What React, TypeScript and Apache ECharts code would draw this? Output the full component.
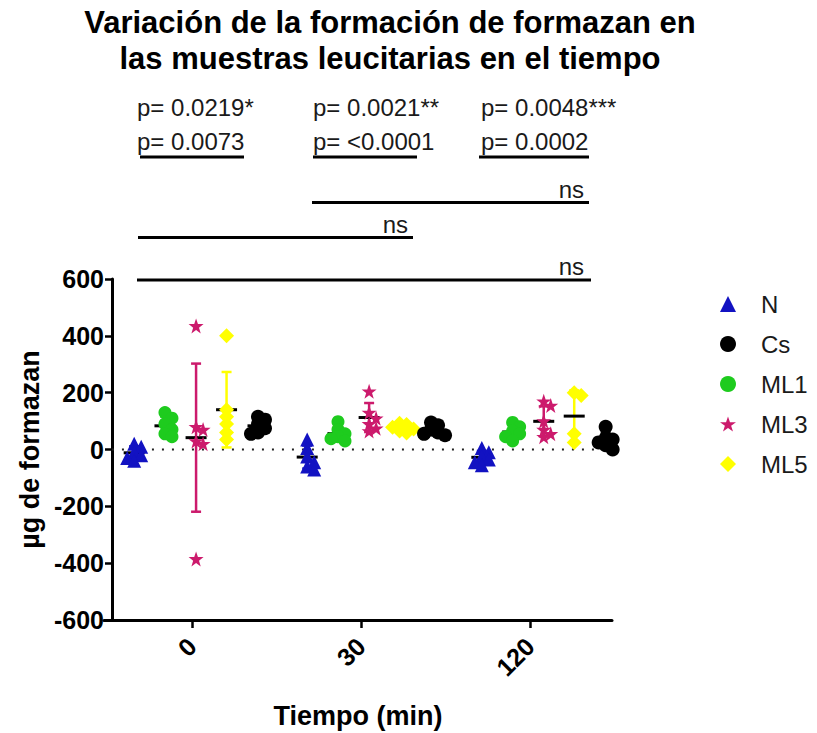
import { useEffect, useRef } from 'react';
import * as echarts from 'echarts';

// ---- data (µg de formazan per sample) ----
const TIMES = ['0', '30', '120'];
const GROUP_NAMES = ['N', 'ML1', 'ML3', 'ML5', 'Cs'];
const LEGEND_ORDER = ['N', 'Cs', 'ML1', 'ML3', 'ML5'];

const N_VALUES = [
  [20, 10, -10, -20, -30, -40],
  [35, 5, -25, -45, -60, -70],
  [5, -10, -25, -35, -45, -55],
];
const ML1_VALUES = [
  [130, 110, 90, 70, 55, 45],
  [98, 70, 55, 45, 38, 30],
  [95, 80, 65, 55, 45, 30],
];
const ML3_VALUES = [
  [435, 80, 70, 30, 20, -385],
  [205, 130, 110, 90, 75, 65],
  [170, 155, 100, 70, 55, 45],
];
const ML5_VALUES = [
  [400, 140, 115, 90, 60, 35],
  [92, 88, 78, 72, 65, 58],
  [200, 190, 55, 25],
];
const CS_VALUES = [
  [115, 105, 90, 75, 60, 55],
  [95, 85, 70, 60, 55, 50],
  [80, 40, 35, 25, 15, 0],
];

const Y_TICKS = [-600, -400, -200, 0, 200, 400, 600];

// comparison annotations above the plot
const P_TOP = ['p= 0.0219*', 'p= 0.0021**', 'p= 0.0048***'];
const P_BOTTOM = ['p= 0.0073', 'p= <0.0001', 'p= 0.0002'];
const NS_LABELS = ['ns', 'ns', 'ns'];

const TITLE_LINES = [
  'Variación de la formación de formazan en',
  'las muestras leucitarias en el tiempo',
];

// ---- layout ----
const W = 817;
const H = 733;
const GRID = { left: 104, right: 205, top: 279, bottom: 113 };
const X_MIN = -2.9;
const X_MAX = 13.1;
const GROUP_CENTER = [0, 5.45, 10.95];
const SUB_OFFSET = [-1.95, -0.98, 0, 0.96, 1.95];
const TICK_POS = [-0.13, 5.19, 10.52];
const ZERO_LINE_X = [-2.65, 13.57];
const FONT = "'Liberation Sans', Arial, Helvetica, sans-serif";

const STAR =
  'path://M50,2 L61.8,36.2 L97.6,36.2 L68.6,57.6 L79.6,92 L50,71 L20.4,92 L31.4,57.6 L2.4,36.2 L38.2,36.2 Z';

const STYLE: Record<string, { color: string; symbol: string; size: number }> = {
  N: { color: '#1212c2', symbol: 'triangle', size: 14 },
  ML1: { color: '#1ecb1e', symbol: 'circle', size: 13 },
  ML3: { color: '#cc1a6c', symbol: STAR, size: 15 },
  ML5: { color: '#ffff00', symbol: 'diamond', size: 15 },
  Cs: { color: '#000000', symbol: 'circle', size: 14 },
};

const VALUES: Record<string, number[][]> = {
  N: N_VALUES,
  ML1: ML1_VALUES,
  ML3: ML3_VALUES,
  ML5: ML5_VALUES,
  Cs: CS_VALUES,
};

const PX_X = (W - GRID.left - GRID.right) / (X_MAX - X_MIN);
const PX_Y = (H - GRID.top - GRID.bottom) / (Y_TICKS[Y_TICKS.length - 1] - Y_TICKS[0]);

// spread overlapping points sideways, like a column scatter
function swarm(values: number[], cx: number): number[][] {
  const D = 7;
  const STEP = 3.5;
  const placed: { dx: number; y: number }[] = [];
  const order = values.map((_, i) => i).sort((a, b) => values[b] - values[a]);
  const out: number[][] = new Array(values.length);
  for (const i of order) {
    const y = values[i] * PX_Y;
    let dx = 0;
    for (let k = 0; k < 30; k++) {
      const cand = k === 0 ? 0 : (k % 2 ? 1 : -1) * Math.ceil(k / 2) * STEP;
      if (placed.every((p) => Math.hypot(p.dx - cand, p.y - y) >= D)) {
        dx = cand;
        break;
      }
    }
    placed.push({ dx, y });
    out[i] = [cx + dx / PX_X, values[i]];
  }
  return out;
}

function meanSd(v: number[]): [number, number] {
  const m = v.reduce((a, b) => a + b, 0) / v.length;
  const s = Math.sqrt(v.reduce((a, b) => a + (b - m) * (b - m), 0) / (v.length - 1));
  return [m, s];
}

function buildOption() {
  const scatter = GROUP_NAMES.map((name, gi) => {
    const st = STYLE[name];
    const data: number[][] = [];
    TIMES.forEach((_, ti) => {
      data.push(...swarm(VALUES[name][ti], GROUP_CENTER[ti] + SUB_OFFSET[gi]));
    });
    return {
      name,
      type: 'scatter',
      data,
      symbol: st.symbol,
      symbolSize: st.size,
      itemStyle: { color: st.color, opacity: 1 },
      clip: false,
      z: 3,
      silent: true,
    };
  });

  const summaryData: number[][] = [];
  GROUP_NAMES.forEach((name, gi) => {
    TIMES.forEach((_, ti) => {
      const [m, s] = meanSd(VALUES[name][ti]);
      summaryData.push([GROUP_CENTER[ti] + SUB_OFFSET[gi], m, s, gi]);
    });
  });

  const summary = {
    name: 'mean ± SD',
    type: 'custom',
    data: summaryData,
    clip: false,
    z: 2,
    silent: true,
    renderItem: (_params: any, api: any) => {
      const x = api.value(0);
      const m = api.value(1);
      const s = api.value(2);
      const color = STYLE[GROUP_NAMES[api.value(3)]].color;
      const c = api.coord([x, m]);
      const t = api.coord([x, m + s]);
      const b = api.coord([x, m - s]);
      const cap = 5;
      const half = 10.5;
      return {
        type: 'group',
        children: [
          { type: 'line', shape: { x1: c[0], y1: t[1], x2: c[0], y2: b[1] }, style: { stroke: color, lineWidth: 2.5 } },
          { type: 'line', shape: { x1: c[0] - cap, y1: t[1], x2: c[0] + cap, y2: t[1] }, style: { stroke: color, lineWidth: 2.5 } },
          { type: 'line', shape: { x1: c[0] - cap, y1: b[1], x2: c[0] + cap, y2: b[1] }, style: { stroke: color, lineWidth: 2.5 } },
          { type: 'line', shape: { x1: c[0] - half, y1: c[1], x2: c[0] + half, y2: c[1] }, style: { stroke: '#000', lineWidth: 3 } },
        ],
      };
    },
  };

  const zeroLine = {
    name: 'zero',
    type: 'line',
    data: [
      [ZERO_LINE_X[0], 0],
      [ZERO_LINE_X[1], 0],
    ],
    symbol: 'none',
    clip: false,
    silent: true,
    z: 1,
    lineStyle: { color: '#222', width: 2.2, type: [2, 8] },
  };

  const textStyle = (extra: any) => ({ fontFamily: FONT, fill: '#1a1a1a', fontSize: 24, ...extra });

  const graphic: any[] = [];
  TITLE_LINES.forEach((t, i) => {
    graphic.push({
      type: 'text',
      x: 390,
      y: 22 + i * 36,
      style: textStyle({ text: t, fontSize: 31, fontWeight: 'bold', fill: '#000', align: 'center', verticalAlign: 'middle' }),
    });
  });

  const pX = [137, 313, 481];
  const underline = [
    [140, 244],
    [313, 417],
    [479, 589],
  ];
  P_TOP.forEach((t, i) => {
    graphic.push({ type: 'text', x: pX[i], y: 107, style: textStyle({ text: t, align: 'left', verticalAlign: 'middle' }) });
  });
  P_BOTTOM.forEach((t, i) => {
    graphic.push({ type: 'text', x: pX[i], y: 141, style: textStyle({ text: t, align: 'left', verticalAlign: 'middle' }) });
    graphic.push({
      type: 'line',
      shape: { x1: underline[i][0], y1: 157, x2: underline[i][1], y2: 157 },
      style: { stroke: '#000', lineWidth: 3 },
    });
  });

  const nsBars = [
    { x1: 312, x2: 589, y: 202.5, tx: 584, ty: 189 },
    { x1: 138, x2: 413, y: 237.5, tx: 408, ty: 224 },
    { x1: 137, x2: 591, y: 280, tx: 584, ty: 266 },
  ];
  nsBars.forEach((b, i) => {
    graphic.push({ type: 'line', shape: { x1: b.x1, y1: b.y, x2: b.x2, y2: b.y }, style: { stroke: '#000', lineWidth: 3 } });
    graphic.push({ type: 'text', x: b.tx, y: b.ty, style: textStyle({ text: NS_LABELS[i], align: 'right', verticalAlign: 'middle' }) });
  });

  return {
    animation: false,
    backgroundColor: '#fff',
    grid: { ...GRID, containLabel: false },
    legend: {
      data: LEGEND_ORDER,
      orient: 'vertical',
      left: 715,
      top: 287,
      itemWidth: 16,
      itemHeight: 16,
      itemGap: 16,
      selectedMode: false,
      textStyle: { fontFamily: FONT, fontSize: 24, lineHeight: 24, color: '#1a1a1a', padding: [0, 0, 0, 20] },
    },
    xAxis: {
      type: 'value',
      min: X_MIN,
      max: X_MAX,
      splitLine: { show: false },
      axisLine: { show: true, onZero: false, lineStyle: { color: '#000', width: 3 } },
      axisTick: { show: true, customValues: TICK_POS, length: 8, lineStyle: { color: '#000', width: 2.5 } },
      axisLabel: {
        customValues: TICK_POS,
        rotate: 45,
        margin: 22,
        fontFamily: FONT,
        fontSize: 25,
        fontWeight: 'bold',
        color: '#000',
        formatter: (v: number) => {
          let best = 0;
          TICK_POS.forEach((p, i) => {
            if (Math.abs(p - v) < Math.abs(TICK_POS[best] - v)) best = i;
          });
          return TIMES[best];
        },
      },
      name: 'Tiempo (min)',
      nameLocation: 'middle',
      nameGap: 82,
      nameTextStyle: { fontFamily: FONT, fontSize: 27, fontWeight: 'bold', color: '#000' },
    },
    yAxis: {
      type: 'value',
      min: Y_TICKS[0],
      max: Y_TICKS[Y_TICKS.length - 1],
      interval: Y_TICKS[1] - Y_TICKS[0],
      offset: -8,
      splitLine: { show: false },
      axisLine: { show: true, onZero: false, lineStyle: { color: '#000', width: 3 } },
      axisTick: { show: true, length: 7, lineStyle: { color: '#000', width: 2.5 } },
      axisLabel: { margin: 8, fontFamily: FONT, fontSize: 25, fontWeight: 'bold', color: '#000' },
      name: 'µg de formazan',
      nameLocation: 'middle',
      nameRotate: 90,
      nameGap: 62,
      nameTextStyle: { fontFamily: FONT, fontSize: 27, fontWeight: 'bold', color: '#000' },
    },
    graphic,
    series: [zeroLine, summary, ...scatter],
  };
}

export default function App() {
  const ref = useRef<HTMLDivElement>(null);
  useEffect(() => {
    document.body.style.margin = '0';
    if (!ref.current) return;
    const chart = echarts.init(ref.current, undefined, { renderer: 'svg' });
    chart.setOption(buildOption() as any);
    return () => chart.dispose();
  }, []);
  return <div ref={ref} style={{ width: W, height: H }} />;
}
